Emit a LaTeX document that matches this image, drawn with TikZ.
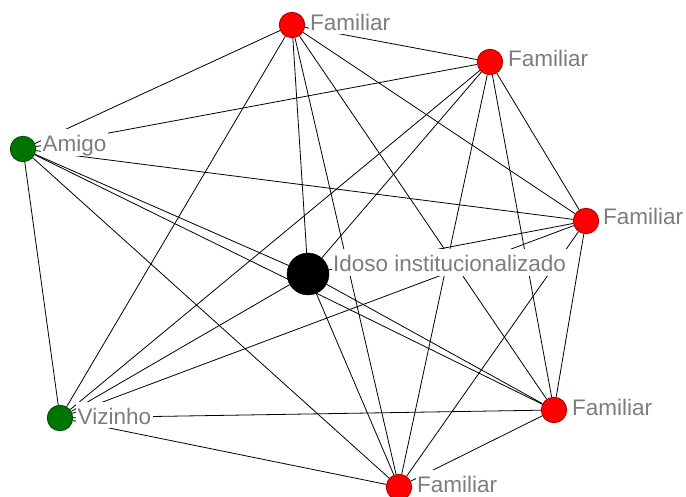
\documentclass[tikz,border=0pt]{standalone}
\usepackage{fontspec}
\setmainfont{Liberation Sans}
\definecolor{nodered}{RGB}{255,0,0}
\definecolor{redline}{RGB}{165,0,0}
\definecolor{nodegreen}{RGB}{0,118,0}
\definecolor{greenline}{RGB}{0,70,0}
\definecolor{labelgray}{RGB}{125,125,125}
\begin{document}
\begin{tikzpicture}[x=1pt,y=-1pt,
  actor/.style={circle,draw,line width=0.8pt,minimum size=25.5pt,inner sep=0pt},
  fam/.style={actor,fill=nodered,draw=redline},
  friend/.style={actor,fill=nodegreen,draw=greenline},
  ego/.style={circle,fill=black,draw=black,minimum size=42pt,inner sep=0pt},
  tie/.style={draw=black,line width=0.8pt},
  lbl/.style={anchor=base west,fill=white,text=labelgray,font=\fontsize{22.5}{24}\selectfont,inner xsep=1.5pt,inner ysep=0pt,text height=22.5pt,text depth=4pt}
]
\useasboundingbox (0,0) rectangle (686,497);
\fill[white] (0,0) rectangle (686,497);
% actors
\node[ego] (c) at (308,274) {};
\node[fam] (f1) at (292,25) {};
\node[fam] (f2) at (490,62) {};
\node[fam] (f3) at (586,221) {};
\node[fam] (f4) at (554,410) {};
\node[fam] (f5) at (399,487) {};
\node[friend] (am) at (23,149) {};
\node[friend] (vz) at (60,418) {};
% ties (complete network)
\foreach \a/\b in {c/f1,c/f2,c/f3,c/f4,c/f5,c/am,c/vz,
  f1/f2,f1/f3,f1/f4,f1/f5,f1/am,f1/vz,
  f2/f3,f2/f4,f2/f5,f2/am,f2/vz,
  f3/f4,f3/f5,f3/am,f3/vz,
  f4/f5,f4/am,f4/vz,
  f5/am,f5/vz,
  am/vz}
  \draw[tie] (\a) -- (\b);
% labels
\node[lbl] (lc) at (331.5,272) {Idoso institucionalizado};
\node[lbl] (l1) at (308.5,30.5) {Familiar};
\node[lbl] (l2) at (506.5,67) {Familiar};
\node[lbl] (l3) at (601.5,225) {Familiar};
\node[lbl] (l4) at (570.5,415) {Familiar};
\node[lbl] (l5) at (415.5,492) {Familiar};
\node[lbl] (la) at (41,152) {Amigo};
\node[lbl] (lv) at (76,424) {Vizinho};
\end{tikzpicture}
\end{document}
